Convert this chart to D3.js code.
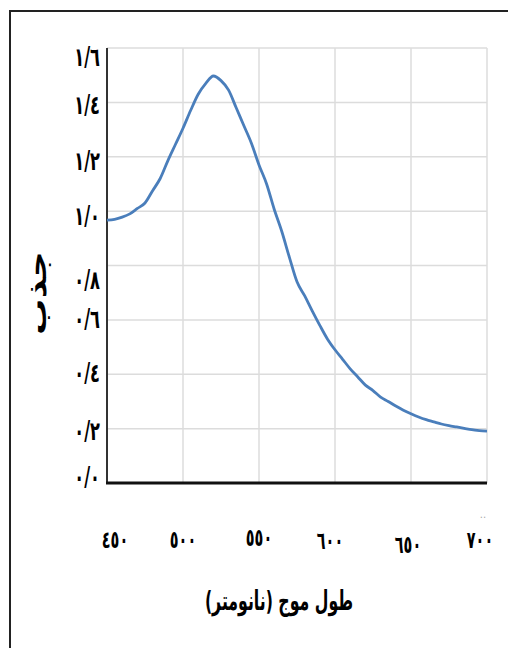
<!DOCTYPE html>
<html>
<head>
<meta charset="utf-8">
<script src="https://cdn.jsdelivr.net/npm/d3@7"></script>
<style>
  body { margin: 0; background: #fff; }
  text { font-family: "DejaVu Sans", sans-serif; }
</style>
</head>
<body>
<svg id="chart" width="508" height="648"></svg>
<script>
const wavelengths = [450, 455, 460, 465, 470, 475, 480, 485, 490, 495, 500, 505, 510, 515, 520, 525, 530, 535, 540, 545, 550, 555, 560, 565, 570, 575, 580, 585, 590, 595, 600, 605, 610, 615, 620, 625, 630, 635, 640, 645, 650, 655, 660, 665, 670, 675, 680, 685, 690, 695, 700];
const absorbance = [0.967, 0.97, 0.978, 0.99, 1.01, 1.03, 1.075, 1.12, 1.185, 1.245, 1.305, 1.37, 1.43, 1.47, 1.497, 1.48, 1.445, 1.38, 1.315, 1.25, 1.17, 1.1, 1.007, 0.925, 0.83, 0.74, 0.689, 0.633, 0.58, 0.53, 0.49, 0.455, 0.42, 0.39, 0.36, 0.34, 0.316, 0.3, 0.283, 0.268, 0.255, 0.243, 0.233, 0.225, 0.217, 0.211, 0.206, 0.201, 0.196, 0.193, 0.191];
const xTicks = [450, 500, 550, 600, 650, 700];
const xTickLabels = ["٤٥٠", "٥٠٠", "٥٥٠", "٦٠٠", "٦٥٠", "٧٠٠"];
const yTicks = [0, 0.2, 0.4, 0.6, 0.8, 1.0, 1.2, 1.4, 1.6];
const yTickLabels = ["٠/٠", "٠/٢", "٠/٤", "٠/٦", "٠/٨", "١/٠", "١/٢", "١/٤", "١/٦"];
const xTitle = "طول موج (نانومتر)";
const yTitle = "جذب";

const svg = d3.select("#chart");

// outer frame (runs off the right and bottom edges)
svg.append("rect")
   .attr("x", 10).attr("y", 11)
   .attr("width", 520).attr("height", 660)
   .attr("fill", "none")
   .attr("stroke", "#222")
   .attr("stroke-width", 2);

const x = d3.scaleLinear().domain([450, 700]).range([107, 487]);
const y = d3.scaleLinear().domain([0, 1.6]).range([483, 48]);

// grid
svg.append("g")
   .selectAll("line")
   .data(yTicks)
   .enter().append("line")
   .attr("x1", x(450)).attr("x2", x(700))
   .attr("y1", d => y(d)).attr("y2", d => y(d))
   .attr("stroke", "#dcdcdc")
   .attr("stroke-width", 1.5);

svg.append("g")
   .selectAll("line")
   .data(xTicks)
   .enter().append("line")
   .attr("x1", d => x(d)).attr("x2", d => x(d))
   .attr("y1", y(0)).attr("y2", y(1.6))
   .attr("stroke", "#dcdcdc")
   .attr("stroke-width", 1.5);

// axis lines
svg.append("line")
   .attr("x1", x(450)).attr("x2", x(450))
   .attr("y1", y(1.6)).attr("y2", y(0))
   .attr("stroke", "#333").attr("stroke-width", 2);
svg.append("line")
   .attr("x1", x(450) - 1).attr("x2", x(700))
   .attr("y1", y(0)).attr("y2", y(0))
   .attr("stroke", "#111").attr("stroke-width", 3);

// curve
const pts = wavelengths.map((w, i) => [w, absorbance[i]]);
const line = d3.line()
   .x(d => x(d[0]))
   .y(d => y(d[1]))
   .curve(d3.curveMonotoneX);

svg.append("path")
   .datum(pts)
   .attr("d", line)
   .attr("fill", "none")
   .attr("stroke", "#4a7ebb")
   .attr("stroke-width", 2.8);

// tick labels (hand-placed in the original, so small nudges)
const yNudge = {0: -6, 0.2: 2, 0.4: -1, 0.6: -1, 0.8: 14, 1: 5, 1.2: 4, 1.4: 3, 1.6: 9};
svg.append("g")
   .selectAll("text")
   .data(yTicks)
   .enter().append("text")
   .attr("transform", d => `translate(100,${y(d) + yNudge[d] + 9}) scale(0.9,1.45)`)
   .attr("text-anchor", "end")
   .style("font-size", "18px")
   .style("font-weight", "bold")
   .text((d, i) => yTickLabels[i]);

const xNudge = {450: [8, 548], 500: [0, 548], 550: [0, 546], 600: [-5, 549], 650: [-3, 553], 700: [-7, 548]};
svg.append("g")
   .selectAll("text")
   .data(xTicks)
   .enter().append("text")
   .attr("transform", d => `translate(${x(d) + xNudge[d][0]},${xNudge[d][1]}) scale(0.72,1.2)`)
   .attr("text-anchor", "middle")
   .style("font-size", "20px")
   .style("font-weight", "bold")
   .text((d, i) => xTickLabels[i]);

svg.append("text")
   .attr("x", 483).attr("y", 518)
   .attr("text-anchor", "middle")
   .style("font-size", "10px")
   .attr("fill", "#aaa")
   .text("..");

// axis titles
svg.append("text")
   .attr("transform", "translate(279,610) scale(0.75,1.3)")
   .attr("text-anchor", "middle")
   .attr("direction", "rtl")
   .style("font-size", "21px")
   .style("font-weight", "bold")
   .text(xTitle);

svg.append("text")
   .attr("transform", "translate(46,293) rotate(-90) scale(1.4,1)")
   .attr("text-anchor", "middle")
   .attr("direction", "rtl")
   .style("font-size", "26px")
   .style("font-weight", "bold")
   .text(yTitle);
</script>
</body>
</html>
